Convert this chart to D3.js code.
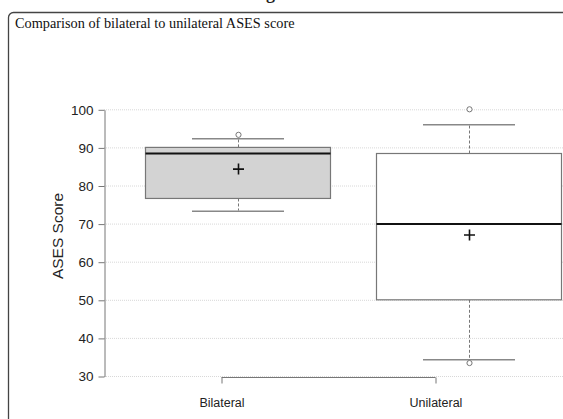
<!DOCTYPE html>
<html>
<head>
<meta charset="utf-8">
<script src="https://cdn.jsdelivr.net/npm/d3@7"></script>
<style>
  body { margin: 0; background: #fff; }
  svg { display: block; }
</style>
</head>
<body>
<div class="box-chart"></div>
<script>
'use strict'

// Data.
const groups = ['Bilateral', 'Unilateral'];
const q1 = [76.6, 50.0];
const medians = [88.4, 69.9];
const q3 = [90.0, 88.4];
const whiskerLow = [73.4, 34.4];
const whiskerHigh = [92.4, 96.1];
const means = [84.3, 67.0];
const outliers = [[93.3], [100.0, 33.4]];
const yTicks = [30, 40, 50, 60, 70, 80, 90, 100];
const boxFills = ['#d3d3d3', '#ffffff'];

const data = groups.map((g, i) => ({
    group: g,
    q1: q1[i], median: medians[i], q3: q3[i],
    lo: whiskerLow[i], hi: whiskerHigh[i],
    mean: means[i], out: outliers[i], fill: boxFills[i]
}));

let width = 563,
    height = 419,
    boxWidth = 185,
    capWidth = 92;

let svg = d3.select('.box-chart')
    .append('svg')
        .attr('width', width)
        .attr('height', height);

// Clipped figure caption above the panel.
svg.append('text')
    .attr('x', 250)
    .attr('y', -1)
    .attr('font-family', 'Liberation Serif, serif')
    .attr('font-weight', 'bold')
    .attr('font-size', 18)
    .attr('fill', '#222')
    .text('Fig. 3');

// Panel frame (runs off the right and bottom edges).
svg.append('rect')
    .attr('x', 8.5)
    .attr('y', 12.5)
    .attr('width', 600)
    .attr('height', 460)
    .attr('rx', 5)
    .attr('fill', 'none')
    .attr('stroke', '#444')
    .attr('stroke-width', 1.3);

svg.append('text')
    .attr('x', 15)
    .attr('y', 27.5)
    .attr('font-family', 'Liberation Serif, Times New Roman, serif')
    .attr('font-size', 14.3)
    .attr('fill', '#111')
    .text('Comparison of bilateral to unilateral ASES score');

// Scales.
let y = d3.scaleLinear()
    .domain([30, 100])
    .range([376, 109.3]);

let x = d3.scalePoint()
    .domain(groups)
    .range([238, 469]);

// axis in the figure is offset from the boxes
let xAxisScale = d3.scalePoint()
    .domain(groups)
    .range([221, 435]);

// Grid lines.
svg.append('g')
    .selectAll('line')
    .data(yTicks)
    .join('line')
        .attr('x1', 104)
        .attr('x2', width)
        .attr('y1', d => y(d) + 0.5)
        .attr('y2', d => y(d) + 0.5)
        .attr('stroke', '#d8d8d8')
        .attr('stroke-dasharray', '1,1');

// Y axis.
svg.append('g')
    .attr('transform', 'translate(104.5, 0.5)')
    .call(d3.axisLeft(y).tickValues(yTicks).tickSize(6).tickSizeOuter(0).tickPadding(5))
    .call(g => g.select('.domain').attr('stroke', '#777'))
    .call(g => g.selectAll('.tick line').attr('stroke', '#777'))
    .call(g => g.selectAll('.tick text')
        .attr('font-family', 'Liberation Sans, Arial, sans-serif')
        .attr('font-size', 13.5)
        .attr('fill', '#222'));

svg.append('text')
    .attr('transform', 'translate(63, 236) rotate(-90)')
    .attr('text-anchor', 'middle')
    .attr('font-family', 'Liberation Sans, Arial, sans-serif')
    .attr('font-size', 15.5)
    .attr('fill', '#222')
    .text('ASES Score');

// X axis.
svg.append('g')
    .attr('transform', 'translate(0.5, 377.5)')
    .call(d3.axisBottom(xAxisScale).tickSize(6).tickSizeOuter(0).tickPadding(15))
    .call(g => g.select('.domain').attr('stroke', '#777').attr('d', 'M221,0H435'))
    .call(g => g.selectAll('.tick line').attr('stroke', '#777').attr('y2', 6))
    .call(g => g.selectAll('.tick text')
        .attr('font-family', 'Liberation Sans, Arial, sans-serif')
        .attr('font-size', 12.5)
        .attr('fill', '#222'));

// Boxes.
let boxes = svg.append('g')
    .selectAll('g')
    .data(data)
    .join('g');

// whisker stems
boxes.append('line')
    .attr('x1', d => x(d.group) + 0.5)
    .attr('x2', d => x(d.group) + 0.5)
    .attr('y1', d => y(d.q3))
    .attr('y2', d => y(d.hi))
    .attr('stroke', '#777')
    .attr('stroke-dasharray', '3,2');

boxes.append('line')
    .attr('x1', d => x(d.group) + 0.5)
    .attr('x2', d => x(d.group) + 0.5)
    .attr('y1', d => y(d.q1))
    .attr('y2', d => y(d.lo))
    .attr('stroke', '#777')
    .attr('stroke-dasharray', '3,2');

// caps
boxes.selectAll('line.cap')
    .data(d => [d.lo, d.hi].map(v => ({group: d.group, v: v})))
    .join('line')
        .attr('class', 'cap')
        .attr('x1', d => x(d.group) - capWidth / 2)
        .attr('x2', d => x(d.group) + capWidth / 2)
        .attr('y1', d => y(d.v) + 0.5)
        .attr('y2', d => y(d.v) + 0.5)
        .attr('stroke', '#888')
        .attr('stroke-width', 1.5);

boxes.append('rect')
    .attr('x', d => x(d.group) - boxWidth / 2)
    .attr('y', d => y(d.q3))
    .attr('width', boxWidth)
    .attr('height', d => y(d.q1) - y(d.q3))
    .attr('fill', d => d.fill)
    .attr('stroke', '#777')
    .attr('stroke-width', 1.2);

boxes.append('line')
    .attr('x1', d => x(d.group) - boxWidth / 2)
    .attr('x2', d => x(d.group) + boxWidth / 2)
    .attr('y1', d => y(d.median))
    .attr('y2', d => y(d.median))
    .attr('stroke', '#111')
    .attr('stroke-width', 2.2);

// mean markers
boxes.append('path')
    .attr('d', d => {
        let cx = x(d.group) + 0.5, cy = y(d.mean), s = 5.5;
        return `M${cx - s},${cy}H${cx + s}M${cx},${cy - s}V${cy + s}`;
    })
    .attr('stroke', '#111')
    .attr('stroke-width', 1.6);

// outliers
boxes.selectAll('circle')
    .data(d => d.out.map(v => ({group: d.group, v: v})))
    .join('circle')
        .attr('cx', d => x(d.group) + 0.5)
        .attr('cy', d => y(d.v))
        .attr('r', 2.6)
        .attr('fill', '#fff')
        .attr('stroke', '#777')
        .attr('stroke-width', 1);
</script>
</body>
</html>
